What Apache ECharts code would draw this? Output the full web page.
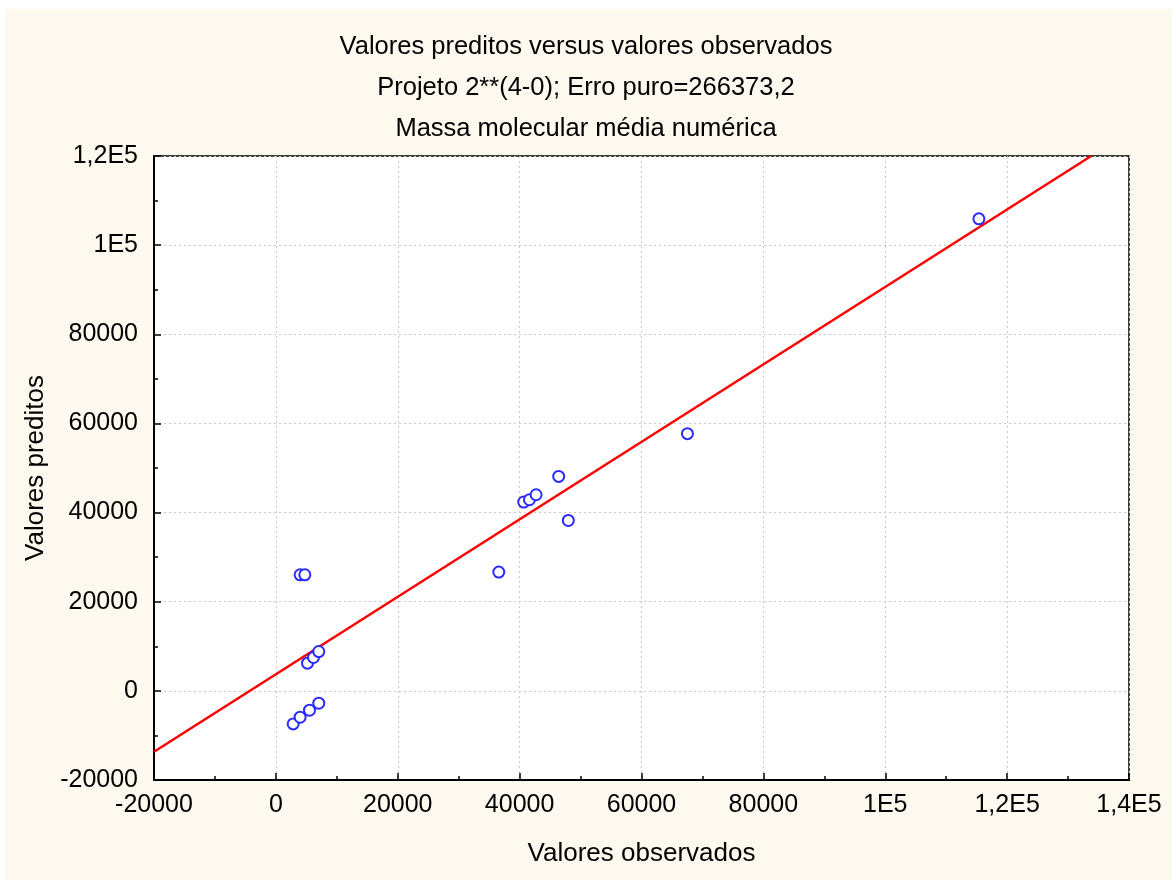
<!DOCTYPE html>
<html>
<head>
<meta charset="utf-8">
<script src="https://cdn.jsdelivr.net/npm/echarts@6/dist/echarts.min.js"></script>
<style>
html,body{margin:0;padding:0;background:#ffffff;}
#wrap{position:absolute;left:0;top:0;width:1172px;height:880px;background:#ffffff;}
#cream{position:absolute;left:5px;top:9px;width:1167px;height:871px;background:#FDF9EF;}
#chart{position:absolute;left:0;top:0;width:1172px;height:880px;}
</style>
</head>
<body>
<div id="wrap"><div id="cream"></div><div id="chart"></div></div>
<script>
// Observed values (x) and predicted values (y)
var observed = [3980, 4750, 5190, 6170, 7040, 2840, 3980, 5520, 7040, 46410, 40670, 41610, 42700, 47990, 36580, 67540, 115370];
var predicted = [26040, 26040, 6220, 7480, 8820, -7410, -5910, -4340, -2770, 48110, 42360, 42880, 44000, 38230, 26650, 57700, 105900];
// Fitted line end points
var fitX = [-20000, 133800];
var fitY = [-13650, 120000];
// Tick labels
var xTickValues = [-20000, 0, 20000, 40000, 60000, 80000, 100000, 120000, 140000];
var xTickLabels = ['-20000', '0', '20000', '40000', '60000', '80000', '1E5', '1,2E5', '1,4E5'];
var yTickValues = [-20000, 0, 20000, 40000, 60000, 80000, 100000, 120000];
var yTickLabels = ['-20000', '0', '20000', '40000', '60000', '80000', '1E5', '1,2E5'];
var titleLines = ['Valores preditos versus valores observados', 'Projeto 2**(4-0); Erro puro=266373,2', 'Massa molecular média numérica'];

function lbl(values, labels) {
  return function (v) {
    var i = values.indexOf(v);
    return i >= 0 ? labels[i] : '';
  };
}

var font = 'Liberation Sans, Arial, sans-serif';
var chart = echarts.init(document.getElementById('chart'), null, {renderer: 'canvas'});
var scatterData = observed.map(function (x, i) { return [x, predicted[i]]; });
var lineData = fitX.map(function (x, i) { return [x, fitY[i]]; });

chart.setOption({
  backgroundColor: 'transparent',
  animation: false,
  title: {
    text: titleLines.join('\n'),
    left: 'center',
    top: 21,
    textStyle: {fontFamily: font, fontSize: 25.5, fontWeight: 'normal', color: '#000', lineHeight: 41}
  },
  grid: {
    left: 154, right: 43, top: 156, bottom: 100,
    show: true, backgroundColor: '#ffffff', borderColor: '#000', borderWidth: 1.5
  },
  xAxis: {
    type: 'value', min: -20000, max: 140000, interval: 20000,
    name: 'Valores observados', nameLocation: 'middle', nameGap: 61,
    nameTextStyle: {fontFamily: font, fontSize: 26, color: '#000'},
    axisLine: {show: true, onZero: false, lineStyle: {color: '#000', width: 2}},
    axisTick: {show: true, inside: true, length: 7, lineStyle: {color: '#000', width: 1.5}},
    minorTick: {show: true, splitNumber: 2, length: 4, lineStyle: {color: '#000', width: 1.5}},
    axisLabel: {fontFamily: font, fontSize: 25, color: '#000', margin: 13, formatter: lbl(xTickValues, xTickLabels)},
    splitLine: {show: true, lineStyle: {color: '#c8c8c8', type: [2, 3], width: 1}}
  },
  yAxis: {
    type: 'value', min: -20000, max: 120000, interval: 20000,
    name: 'Valores preditos', nameLocation: 'middle', nameGap: 104, nameRotate: 90,
    nameTextStyle: {fontFamily: font, fontSize: 26, color: '#000'},
    axisLine: {show: true, onZero: false, lineStyle: {color: '#000', width: 2}},
    axisTick: {show: true, inside: true, length: 7, lineStyle: {color: '#000', width: 1.5}},
    minorTick: {show: true, splitNumber: 2, length: 4, lineStyle: {color: '#000', width: 1.5}},
    axisLabel: {fontFamily: font, fontSize: 25, color: '#000', margin: 16, formatter: lbl(yTickValues, yTickLabels)},
    splitLine: {show: true, lineStyle: {color: '#c8c8c8', type: [2, 3], width: 1}}
  },
  series: [
    {
      type: 'line', data: lineData, showSymbol: false, symbol: 'none',
      lineStyle: {color: '#ff0000', width: 2.5}, z: 2, clip: true
    },
    {
      type: 'scatter', data: scatterData, symbol: 'emptyCircle', symbolSize: 11,
      itemStyle: {color: '#2b2bff', borderWidth: 1.2, opacity: 1}, z: 3
    }
  ]
});
</script>
</body>
</html>
